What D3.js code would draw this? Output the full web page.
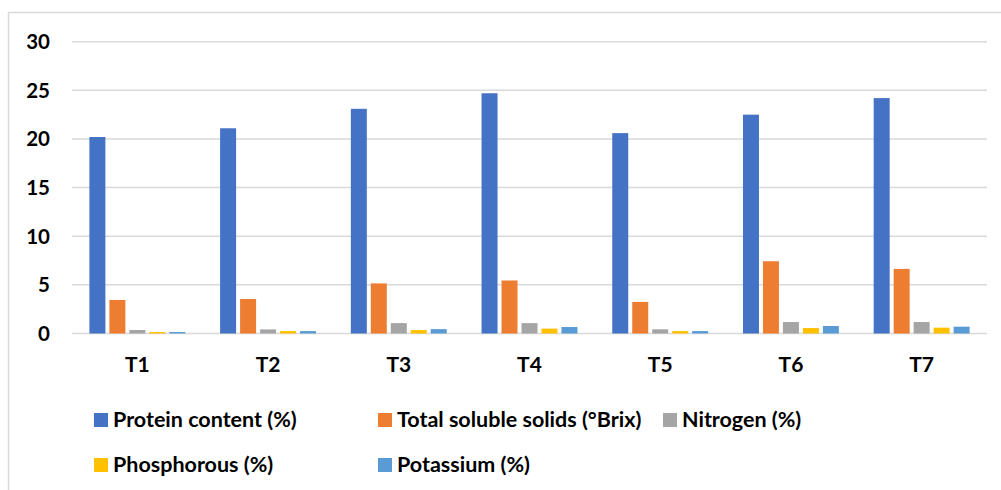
<!DOCTYPE html>
<html>
<head>
<meta charset="utf-8">
<script src="https://cdn.jsdelivr.net/npm/d3@7"></script>
<style>
  html, body { margin: 0; padding: 0; background: #fff; }
  svg { display: block; }
  text { font-family: Lato, "Open Sans", sans-serif; font-weight: bold; fill: #000; }
</style>
</head>
<body>
<svg id="chart" width="1001" height="490"></svg>
<script>
const categories = ["T1", "T2", "T3", "T4", "T5", "T6", "T7"];
const seriesNames = ["Protein content (%)", "Total soluble solids (°Brix)", "Nitrogen (%)", "Phosphorous (%)", "Potassium (%)"];
const protein    = [20.2, 21.1, 23.1, 24.7, 20.6, 22.5, 24.2];
const tss        = [3.45, 3.55, 5.15, 5.45, 3.25, 7.43, 6.64];
const nitrogen   = [0.36, 0.42, 1.07, 1.07, 0.43, 1.18, 1.18];
const phosphorus = [0.15, 0.25, 0.35, 0.50, 0.25, 0.56, 0.60];
const potassium  = [0.15, 0.25, 0.45, 0.67, 0.25, 0.77, 0.70];
const yTicks = [0, 5, 10, 15, 20, 25, 30];
const colors = ["#4472C4", "#ED7D31", "#A5A5A5", "#FFC000", "#5B9BD5"];

const seriesValues = [protein, tss, nitrogen, phosphorus, potassium];
const data = categories.map((c, i) => ({ cat: c, vals: seriesValues.map(s => s[i]) }));

const svg = d3.select("#chart");

// chart border
svg.append("rect").attr("x", 8.5).attr("y", 12.5).attr("width", 1010).attr("height", 500)
  .attr("fill", "none").attr("stroke", "#d9d9d9").attr("stroke-width", 1.5);

const plotLeft = 72, plotRight = 987, plotTop = 41.7, plotBottom = 333.5;
const y = d3.scaleLinear().domain([0, 30]).range([plotBottom, plotTop]);
const x0 = d3.scaleBand().domain(categories).range([plotLeft, plotRight]).padding(0);
const inner = 17.4;
const x1 = d3.scaleBand().domain(d3.range(seriesNames.length))
  .range([inner, x0.bandwidth() - inner]).paddingInner(0.2).paddingOuter(0);

// gridlines
svg.append("g").selectAll("line").data(yTicks).join("line")
  .attr("x1", plotLeft).attr("x2", plotRight)
  .attr("y1", d => y(d)).attr("y2", d => y(d))
  .attr("stroke", "#d9d9d9").attr("stroke-width", 1.5);

// y tick labels
svg.append("g").selectAll("text").data(yTicks).join("text")
  .attr("x", 50).attr("y", d => y(d)).attr("dy", "0.36em")
  .attr("text-anchor", "end").attr("font-size", 20.5).text(d => d);

// bars
const groups = svg.append("g").selectAll("g").data(data).join("g")
  .attr("transform", d => `translate(${x0(d.cat)},0)`);
groups.selectAll("rect").data(d => d.vals.map((v, i) => ({ v, i }))).join("rect")
  .attr("x", d => x1(d.i)).attr("width", x1.bandwidth())
  .attr("y", d => y(d.v)).attr("height", d => y(0) - y(d.v))
  .attr("fill", d => colors[d.i]);

// category labels
svg.append("g").selectAll("text").data(categories).join("text")
  .attr("x", d => x0(d) + x0.bandwidth() / 2).attr("y", 372)
  .attr("text-anchor", "middle").attr("font-size", 21).text(d => d);

// legend
const legendPos = [
  { mx: 94, ty: 427 }, { mx: 378, ty: 427 }, { mx: 663, ty: 427 },
  { mx: 94, ty: 472 }, { mx: 378, ty: 472 }
];
const leg = svg.append("g").selectAll("g").data(seriesNames).join("g");
leg.append("rect")
  .attr("x", (d, i) => legendPos[i].mx).attr("y", (d, i) => legendPos[i].ty - 14)
  .attr("width", 14).attr("height", 14).attr("fill", (d, i) => colors[i]);
leg.append("text")
  .attr("x", (d, i) => legendPos[i].mx + 19).attr("y", (d, i) => legendPos[i].ty)
  .attr("font-size", 21.5).text(d => d);
</script>
</body>
</html>
